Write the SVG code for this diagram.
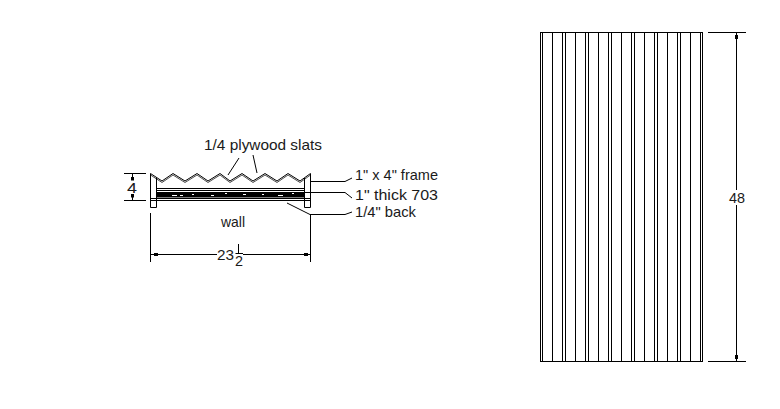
<svg xmlns="http://www.w3.org/2000/svg" width="780" height="409" viewBox="0 0 780 409">
<style>
.l{fill:none;stroke:#000;stroke-width:1}
.t{font-family:"Liberation Sans",Arial,sans-serif;font-size:15px;fill:#1a1a1a}
</style>
<rect width="780" height="409" fill="#fff"/>
<g id="section">
<path class="l" d="M150.500 173.500V207.500H156.500V178M304.500 178V207.500H310.500V173.500M150.500 198.500H310.500M150.500 200.500H310.500"/>
<path class="l" d="M156.500 188.500H304.500M156.500 190.500H304.500"/>
<rect x="157" y="192" width="147.500" height="5.500" fill="#000"/>
<path d="M172 195.500h5M180 195.500h3M192 194.500h2M211 195.500h3M225 193.500h2M243 194.500h3M262 194.500h2M278 195.500h5M292 193.500h2" stroke="#fff" fill="none"/>
<path class="l" d="M150.500 173.500L162 181L173 173.500L185 181L197 173.500L208 181L220 173.500L230 181L242 173.500L253 181L265 173.500L277 181L288 173.500L300 181L310.500 173.500"/>
<path class="l" d="M150.500 175L162 182.500L173 175L185 182.500L197 175L208 182.500L220 175L230 182.500L242 175L253 182.500L265 175L277 182.500L288 175L300 182.500L310.500 175" stroke-opacity=".7"/>
</g>
<g id="leaders">
<path class="l" d="M239 158L228 175M253 155L257 173"/>
<path class="l" d="M310.500 181.500H345L352 178M304 192.500H345L352 198M287 203L310 214.500H345L352 212"/>
</g>
<g id="dimensions">
<path class="l" d="M124 173.500H146M124 200.500H146M132.500 173V179M132.500 195V200"/>
<rect x="131" y="177" width="3" height="3.500"/><rect x="131" y="194" width="3" height="3.500"/>
<path class="l" d="M150.500 213V262M310.500 215V262M151 254.500H217M243 254.500H311M235.500 253.500H243M238.500 244V253"/>
<rect x="154" y="253" width="4" height="3"/><rect x="304" y="253" width="4" height="3"/>
<path class="l" d="M708 32.500H746M708 361.500H746M736.500 32.500V190M736.500 205V361.500"/>
<rect x="735" y="35" width="3" height="4"/><rect x="735" y="355" width="3" height="4"/>
</g>
<g id="panel">
<rect class="l" x="540.500" y="32.500" width="162" height="329"/>
<path class="l" d="M542.500 32V361M552.500 32V361M562.500 32V361M565.500 32V361M575.500 32V361M585.500 32V361M588.500 32V361M598.500 32V361M608.500 32V361M611.500 32V361M621.500 32V361M631.500 32V361M634.500 32V361M644.500 32V361M654.500 32V361M657.500 32V361M667.500 32V361M677.500 32V361M680.500 32V361M690.500 32V361M700.500 32V361"/>
</g>
<g id="labels" class="t">
<text x="204" y="150" textLength="118" lengthAdjust="spacingAndGlyphs">1/4 plywood slats</text>
<text x="355" y="180" textLength="83" lengthAdjust="spacingAndGlyphs">1" x 4" frame</text>
<text x="355" y="200" textLength="83" lengthAdjust="spacingAndGlyphs">1" thick 703</text>
<text x="355" y="217" textLength="61" lengthAdjust="spacingAndGlyphs">1/4" back</text>
<text x="221" y="227" textLength="24" lengthAdjust="spacingAndGlyphs">wall</text>
<text x="127" y="193" textLength="10" lengthAdjust="spacingAndGlyphs">4</text>
<text x="217" y="260" textLength="17" lengthAdjust="spacingAndGlyphs">23</text>
<text x="235" y="266" textLength="8" lengthAdjust="spacingAndGlyphs">2</text>
<text x="729" y="203" textLength="16" lengthAdjust="spacingAndGlyphs">48</text>
</g>
</svg>
